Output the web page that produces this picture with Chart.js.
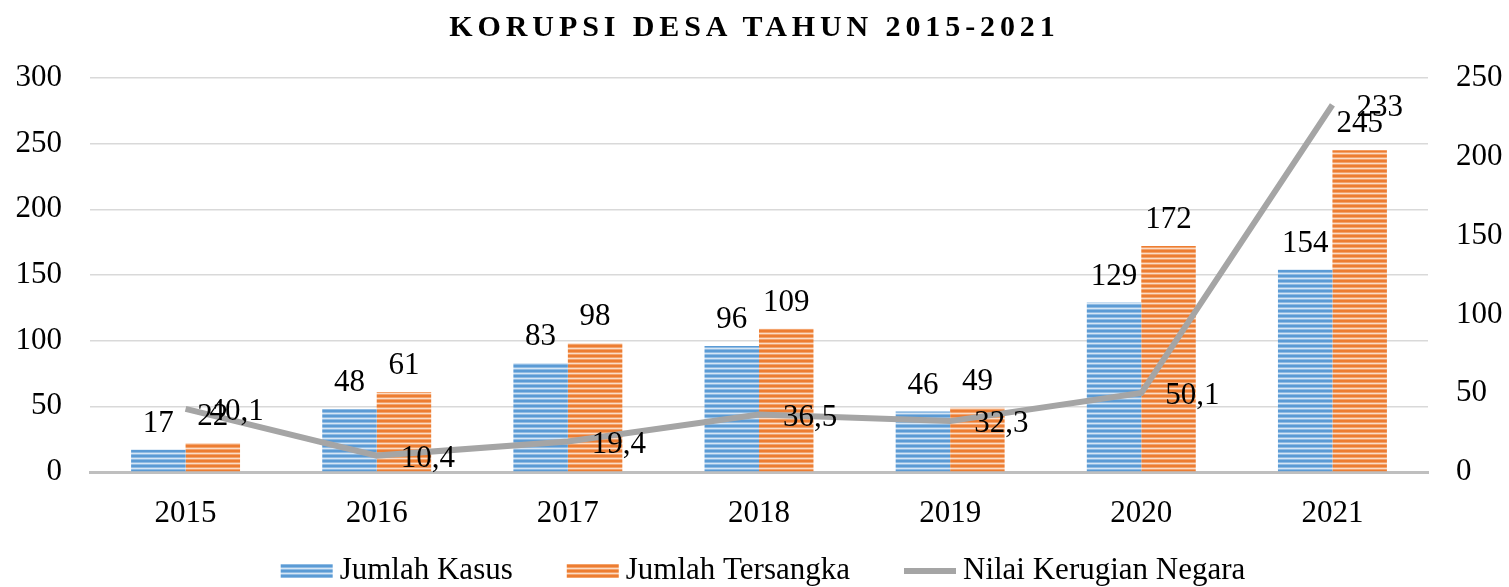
<!DOCTYPE html>
<html>
<head>
<meta charset="utf-8">
<script src="https://cdn.jsdelivr.net/npm/chart.js@4"></script>
<style>
  body { margin: 0; background: #fff; }
  #wrap { position: relative; width: 1509px; height: 587px; }
  #title {
    position: absolute; left: 0; top: 9px; width: 1509px;
    text-align: center; font-family: "Liberation Serif", "Times New Roman", serif;
    font-weight: bold; font-size: 30px; letter-spacing: 4.9px; color: #000;
  }
</style>
</head>
<body>
<div id="wrap">
  <div id="title">KORUPSI DESA TAHUN 2015-2021</div>
  <canvas id="chart" width="1509" height="587"></canvas>
</div>
<script>
const years = ['2015', '2016', '2017', '2018', '2019', '2020', '2021'];
const jumlahKasus = [17, 48, 83, 96, 46, 129, 154];
const jumlahTersangka = [22, 61, 98, 109, 49, 172, 245];
const nilaiKerugian = [40.1, 10.4, 19.4, 36.5, 32.3, 50.1, 233];

const FONT = '"Liberation Serif", "Times New Roman", serif';
const FS = 31;

// garis horizontal pada batang
function stripes(rows) {
    const c = document.createElement('canvas');
    c.width = 1;
    c.height = rows.length;
    const g = c.getContext('2d');
    rows.forEach((col, i) => {
        g.fillStyle = col;
        g.fillRect(0, i, 1, 1);
    });
    return g.createPattern(c, 'repeat');
}

const bluePattern = stripes(['#5B9BD5', '#5B9BD5', '#8FBBE3', '#D6E6F5', '#8FBBE3']);
const orangePattern = stripes(['#ED7D31', '#ED7D31', '#F3A26B', '#FBDCC6', '#F3A26B']);

const labelPlugin = {
    id: 'valueLabels',
    afterDatasetsDraw(chart) {
        const ctx = chart.ctx;
        ctx.save();
        ctx.font = FS + 'px ' + FONT;
        ctx.fillStyle = '#000';
        chart.data.datasets.forEach((ds, i) => {
            const meta = chart.getDatasetMeta(i);
            meta.data.forEach((el, j) => {
                const txt = String(ds.data[j]).replace('.', ',');
                if (ds.type === 'line') {
                    ctx.textAlign = 'left';
                    ctx.textBaseline = 'middle';
                    ctx.fillText(txt, el.x + 24, el.y + 3);
                } else {
                    ctx.textAlign = 'center';
                    ctx.textBaseline = 'alphabetic';
                    ctx.fillText(txt, el.x, el.y - 18);
                }
            });
        });
        ctx.restore();
    }
};

// legenda di bawah, digambar sendiri supaya jaraknya sama dengan aslinya
const legendPlugin = {
    id: 'bottomLegend',
    afterDraw(chart) {
        const ctx = chart.ctx;
        const boxW = 52, gapText = 7, gapItem = 54;
        ctx.save();
        ctx.font = FS + 'px ' + FONT;
        const items = chart.data.datasets.map(ds => ({
            ds: ds,
            w: boxW + gapText + ctx.measureText(ds.label).width
        }));
        const total = items.reduce((s, it) => s + it.w, 0) + gapItem * (items.length - 1);
        let x = 763 - total / 2;
        const y = 571;
        items.forEach(it => {
            if (it.ds.type === 'line') {
                ctx.strokeStyle = it.ds.borderColor;
                ctx.lineWidth = 6;
                ctx.beginPath();
                ctx.moveTo(x, y);
                ctx.lineTo(x + boxW, y);
                ctx.stroke();
            } else {
                ctx.fillStyle = it.ds.backgroundColor;
                ctx.fillRect(x, y - 7, boxW, 14);
            }
            ctx.fillStyle = '#000';
            ctx.textAlign = 'left';
            ctx.textBaseline = 'middle';
            ctx.fillText(it.ds.label, x + boxW + gapText, y);
            x += it.w + gapItem;
        });
        ctx.restore();
    }
};

const ctx = document.getElementById('chart').getContext('2d');
const chart = new Chart(ctx, {
    data: {
        labels: years,
        datasets: [
            {
                type: 'bar',
                label: 'Jumlah Kasus',
                data: jumlahKasus,
                backgroundColor: bluePattern,
                yAxisID: 'y',
                order: 1,
                categoryPercentage: 0.57,
                barPercentage: 1.0
            },
            {
                type: 'bar',
                label: 'Jumlah Tersangka',
                data: jumlahTersangka,
                backgroundColor: orangePattern,
                yAxisID: 'y',
                order: 1,
                categoryPercentage: 0.57,
                barPercentage: 1.0
            },
            {
                type: 'line',
                label: 'Nilai Kerugian Negara',
                data: nilaiKerugian,
                borderColor: '#A5A5A5',
                backgroundColor: '#A5A5A5',
                borderWidth: 6,
                pointRadius: 0,
                tension: 0,
                yAxisID: 'y1',
                order: 0
            }
        ]
    },
    options: {
        responsive: false,
        animation: false,
        layout: { padding: { top: 78, bottom: 0, left: 0, right: 0 } },
        scales: {
            x: {
                clip: false,
                grid: { display: false },
                border: { display: true, color: '#BFBFBF', width: 3 },
                ticks: { font: { family: FONT, size: FS }, color: '#000', padding: 15 },
                afterFit(scale) { scale.height = 115; }
            },
            y: {
                position: 'left',
                min: 0,
                max: 300,
                ticks: { stepSize: 50, font: { family: FONT, size: FS }, color: '#000', padding: 28 },
                grid: { color: '#D9D9D9', lineWidth: 1.5, drawTicks: false },
                border: { display: false },
                afterFit(scale) { scale.width = 90; }
            },
            y1: {
                position: 'right',
                min: 0,
                max: 250,
                ticks: { stepSize: 50, font: { family: FONT, size: FS }, color: '#000', padding: 28 },
                grid: { drawOnChartArea: false, drawTicks: false },
                border: { display: false },
                afterFit(scale) { scale.width = 81; }
            }
        },
        plugins: {
            title: { display: false },
            tooltip: { enabled: false },
            legend: { display: false }
        }
    },
    plugins: [labelPlugin, legendPlugin]
});
</script>
</body>
</html>
